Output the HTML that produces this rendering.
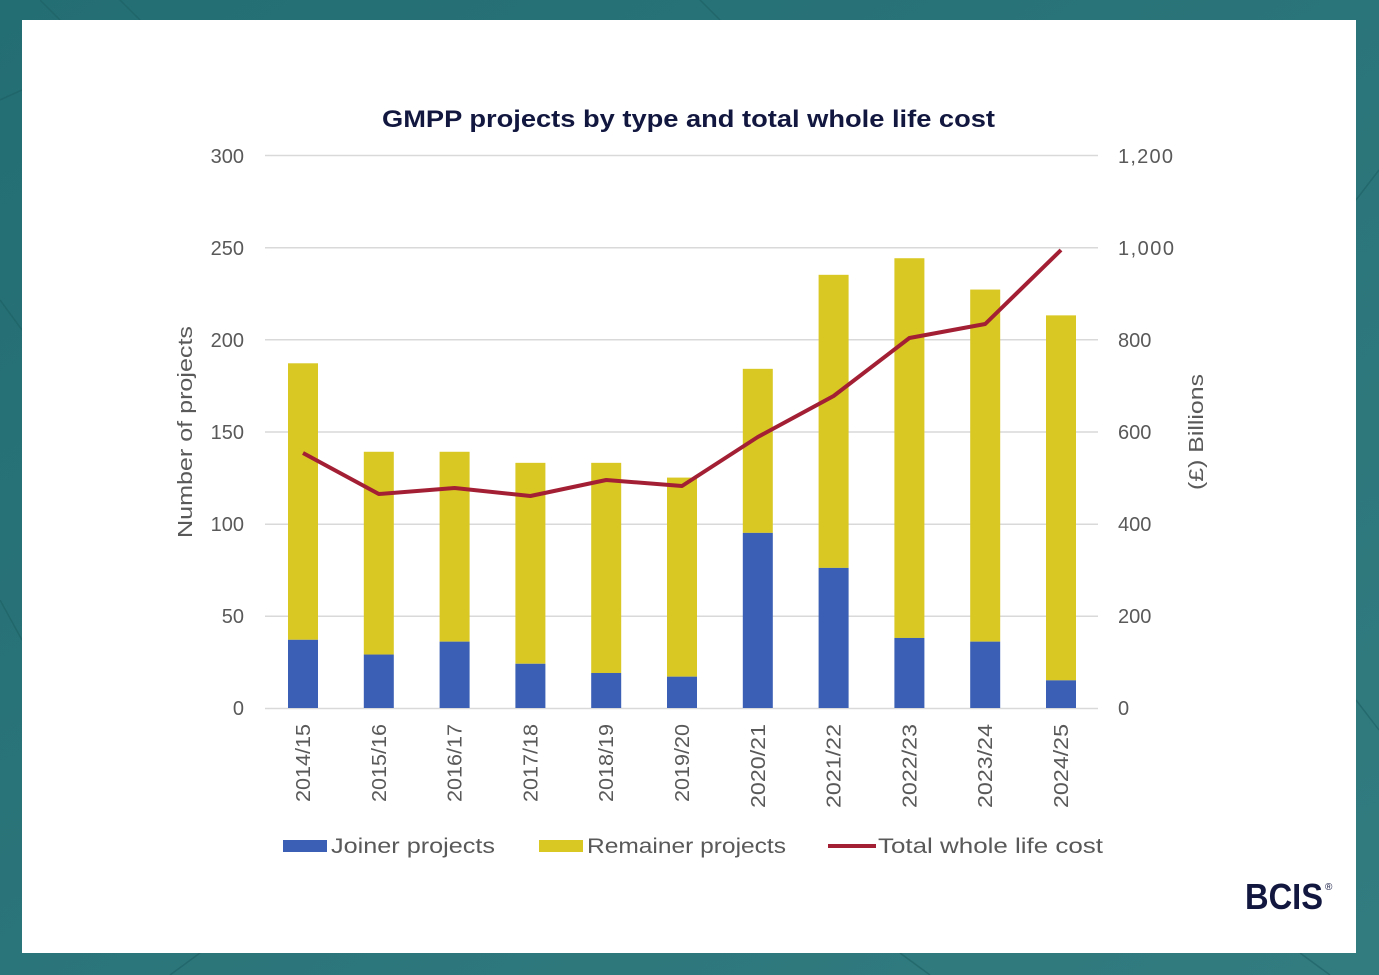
<!DOCTYPE html>
<html><head><meta charset="utf-8"><style>
body{margin:0;width:1379px;height:975px;background:#2a7479;overflow:hidden}
svg{display:block}
text{font-family:"Liberation Sans",sans-serif}
</style></head><body>
<svg width="1379" height="975" viewBox="0 0 1379 975">
<defs><linearGradient id="bg" x1="0" y1="0" x2="1" y2="1"><stop offset="0" stop-color="#236e73"/><stop offset="1" stop-color="#327c80"/></linearGradient></defs>
<rect width="1379" height="975" fill="url(#bg)"/>
<g stroke="#1d5f63" stroke-width="1.5" fill="none" opacity="0.6">
<path d="M40 0 L60 20 M120 0 L140 20 M700 0 L720 20 M0 100 L22 90 M0 300 L22 330 M0 600 L22 640 M1356 200 L1379 170 M1356 700 L1379 730 M200 953 L170 975 M900 953 L930 975 M1300 953 L1330 975"/>
</g>
<rect x="22" y="20" width="1334" height="933" fill="#fff"/>
<text x="382" y="127" font-size="24" font-weight="bold" fill="#12173f" textLength="613" lengthAdjust="spacingAndGlyphs">GMPP projects by type and total whole life cost</text>
<g stroke="#d9d9d9" stroke-width="1.5">
<line x1="265" x2="1098" y1="155.5" y2="155.5"/><line x1="265" x2="1098" y1="247.7" y2="247.7"/>
<line x1="265" x2="1098" y1="339.8" y2="339.8"/><line x1="265" x2="1098" y1="432" y2="432"/>
<line x1="265" x2="1098" y1="524.2" y2="524.2"/><line x1="265" x2="1098" y1="616.3" y2="616.3"/>
<line x1="265" x2="1098" y1="708.5" y2="708.5"/>
</g>
<g font-size="20" fill="#595959" text-anchor="end">
<text x="244" y="163">300</text><text x="244" y="255">250</text><text x="244" y="347">200</text>
<text x="244" y="439">150</text><text x="244" y="531">100</text><text x="244" y="623">50</text><text x="244" y="715">0</text>
</g>
<g font-size="20" fill="#595959" text-anchor="start">
<text x="1118" y="163" textLength="55">1,200</text><text x="1118" y="255" textLength="56">1,000</text><text x="1118" y="347">800</text>
<text x="1118" y="439">600</text><text x="1118" y="531">400</text><text x="1118" y="623">200</text><text x="1118" y="715">0</text>
</g>
<text transform="translate(192,538) rotate(-90)" font-size="20" fill="#595959" textLength="212" lengthAdjust="spacingAndGlyphs">Number of projects</text>
<text transform="translate(1203,490) rotate(-90)" font-size="20" fill="#595959" textLength="116" lengthAdjust="spacingAndGlyphs">(£) Billions</text>
<g id="bars"></g>
<g id="labels" font-size="20" fill="#595959"></g>
<polyline id="line" fill="none" stroke="#a31f34" stroke-width="4" stroke-linejoin="round"/>
<rect x="283" y="840" width="44" height="12" fill="#3a5fb4"/>
<text x="331" y="853" font-size="21" fill="#595959" textLength="164" lengthAdjust="spacingAndGlyphs">Joiner projects</text>
<rect x="539" y="840" width="44" height="12" fill="#d9c824"/>
<text x="587" y="853" font-size="21" fill="#595959" textLength="199" lengthAdjust="spacingAndGlyphs">Remainer projects</text>
<rect x="828" y="844" width="48" height="4" fill="#a31f34"/>
<text x="878" y="853" font-size="21" fill="#595959" textLength="225" lengthAdjust="spacingAndGlyphs">Total whole life cost</text>
<text x="1245" y="909" font-size="36" font-weight="bold" fill="#12173f" textLength="78" lengthAdjust="spacingAndGlyphs">BCIS</text>
<text x="1325" y="890" font-size="10" fill="#12173f">®</text>
</svg>
<script>
var j=[37,29,36,24,19,17,95,76,38,36,15],t=[187,139,139,133,133,125,184,235,244,227,213];
var ly=[453,494,488,496,480,486,437,396,338,324,250];
var lab=["2014/15","2015/16","2016/17","2017/18","2018/19","2019/20","2020/21","2021/22","2022/23","2023/24","2024/25"];
var s=553/300,b="",l="",p=[];
for(var i=0;i<11;i++){var c=303+75.8*i;
var yt=708-t[i]*s,yj=708-j[i]*s;
b+='<rect x="'+(c-15)+'" y="'+yt+'" width="30" height="'+(yj-yt)+'" fill="#d9c824"/>';
b+='<rect x="'+(c-15)+'" y="'+yj+'" width="30" height="'+(708-yj)+'" fill="#3a5fb4"/>';
l+='<text transform="translate('+(c+7)+',724) rotate(-90)" text-anchor="end" textLength="'+(i>=6?84:78)+'" lengthAdjust="spacingAndGlyphs">'+lab[i]+'</text>';
p.push(c+','+ly[i]);}
document.getElementById('bars').innerHTML=b;
document.getElementById('labels').innerHTML=l;
document.getElementById('line').setAttribute('points',p.join(' '));
</script>
</body></html>
